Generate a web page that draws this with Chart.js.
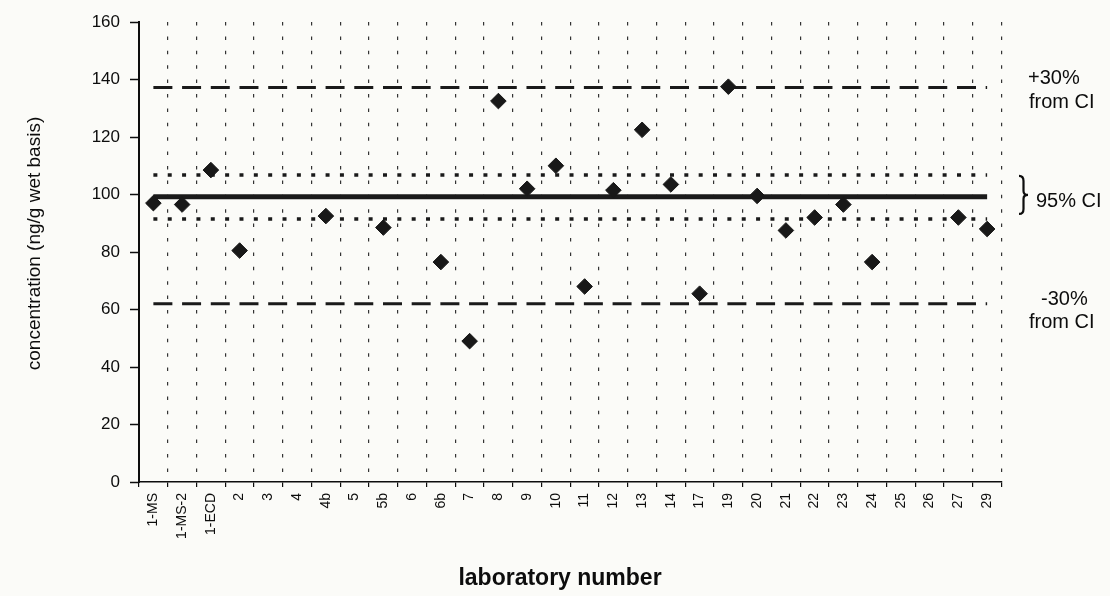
<!DOCTYPE html>
<html>
<head>
<meta charset="utf-8">
<script src="https://cdn.jsdelivr.net/npm/chart.js@4.4.0/dist/chart.umd.min.js"></script>
<style>
  html, body { margin: 0; padding: 0; background: #fbfbf8; }
  canvas { display: block; }
</style>
</head>
<body>
<canvas id="c" width="1110" height="596"></canvas>
<script>
// Laboratory identifiers along the x axis
const labs = ['1-MS', '1-MS-2', '1-ECD', '2', '3', '4', '4b', '5', '5b', '6', '6b', '7', '8', '9', '10',
              '11', '12', '13', '14', '17', '19', '20', '21', '22', '23', '24', '25', '26', '27', '29'];

// Reported concentration per laboratory (ng/g wet basis); null = no result
const conc = [97, 96.5, 108.5, 80.5, null, null, 92.5, null, 88.5, null, 76.5, 49, 132.5, 102, 110,
              68, 101.5, 122.5, 103.5, 65.5, 137.5, 99.5, 87.5, 92, 96.5, 76.5, null, null, 92, 88];

// Consensus value, its 95% confidence interval and the +/-30% limits
const ciMean = 99.2;
const ciUpper = 106.8;
const ciLower = 91.5;
const plus30 = 137.2;
const minus30 = 62;

// y axis tick values
const yTicks = [0, 20, 40, 60, 80, 100, 120, 140, 160];

const INK = '#0d0d0d';
const FONT = 'Liberation Sans, Arial, sans-serif';

const flat = v => labs.map(() => v);

const decor = {
  id: 'decor',
  beforeDraw(chart) {
    const { ctx, width, height } = chart;
    ctx.save();
    ctx.fillStyle = '#fbfbf8';
    ctx.fillRect(0, 0, width, height);
    ctx.restore();
  },
  afterDraw(chart) {
    const { ctx, chartArea } = chart;
    const y = chart.scales.y;
    const r = chartArea.right;
    ctx.save();
    ctx.fillStyle = INK;
    ctx.strokeStyle = INK;

    // axis titles
    ctx.font = 'bold 23px ' + FONT;
    ctx.textAlign = 'center';
    ctx.textBaseline = 'alphabetic';
    ctx.fillText('laboratory number', 560, 585);

    ctx.save();
    ctx.translate(40, 243.5);
    ctx.rotate(-Math.PI / 2);
    ctx.font = '19px ' + FONT;
    ctx.fillText('concentration (ng/g wet basis)', 0, 0);
    ctx.restore();

    // limit annotations on the right
    ctx.font = '20px ' + FONT;
    ctx.textAlign = 'left';
    const pUp = y.getPixelForValue(plus30);
    const pLo = y.getPixelForValue(minus30);
    ctx.fillText('+30%', r + 26.5, pUp - 4);
    ctx.fillText('from CI', r + 27.5, pUp + 20);
    ctx.fillText('-30%', r + 39.5, pLo + 1);
    ctx.fillText('from CI', r + 27.5, pLo + 24);

    // brace spanning the confidence interval
    const top = y.getPixelForValue(ciUpper) + 1;
    const bot = y.getPixelForValue(ciLower) - 5;
    const mid = (top + bot) / 2;
    const x0 = r + 17.5, xm = r + 22, x1 = r + 26.5;
    ctx.lineWidth = 2.2;
    ctx.beginPath();
    ctx.moveTo(x0, top);
    ctx.quadraticCurveTo(xm, top, xm, top + 5);
    ctx.lineTo(xm, mid - 4);
    ctx.quadraticCurveTo(xm, mid, x1, mid);
    ctx.quadraticCurveTo(xm, mid, xm, mid + 4);
    ctx.lineTo(xm, bot - 5);
    ctx.quadraticCurveTo(xm, bot, x0, bot);
    ctx.stroke();
    ctx.fillText('95% CI', r + 34.5, mid + 12);

    ctx.restore();
  }
};

new Chart(document.getElementById('c'), {
  type: 'line',
  data: {
    labels: labs,
    datasets: [
      {
        label: 'laboratories',
        data: conc,
        showLine: false,
        pointStyle: 'rectRot',
        pointRadius: 7.8,
        pointBackgroundColor: '#181818',
        pointBorderColor: '#181818',
        pointBorderWidth: 1
      },
      {
        label: 'mean',
        data: flat(ciMean),
        borderColor: '#1a1a1a',
        borderWidth: 5,
        pointRadius: 0
      },
      {
        label: 'upper CI',
        data: flat(ciUpper),
        borderColor: '#1a1a1a',
        borderWidth: 3.5,
        borderDash: [4, 10.35],
        pointRadius: 0
      },
      {
        label: 'lower CI',
        data: flat(ciLower),
        borderColor: '#1a1a1a',
        borderWidth: 3.5,
        borderDash: [4, 10.35],
        pointRadius: 0
      },
      {
        label: '+30%',
        data: flat(plus30),
        borderColor: '#1a1a1a',
        borderWidth: 3,
        borderDash: [19, 9.7],
        pointRadius: 0
      },
      {
        label: '-30%',
        data: flat(minus30),
        borderColor: '#1a1a1a',
        borderWidth: 3,
        borderDash: [19, 9.7],
        pointRadius: 0
      }
    ]
  },
  options: {
    responsive: false,
    animation: false,
    events: [],
    layout: { padding: { top: 22, right: 108.5, bottom: 0, left: 0 } },
    plugins: {
      legend: { display: false },
      tooltip: { enabled: false }
    },
    scales: {
      x: {
        type: 'category',
        offset: true,
        grid: {
          offset: true,
          color: '#333333',
          lineWidth: 1.2,
          drawTicks: true,
          tickLength: 5,
          tickColor: INK,
          tickWidth: 1.2,
          tickBorderDash: []
        },
        border: { display: true, color: INK, width: 1.5, dash: [3.5, 10.9] },
        ticks: {
          autoSkip: false,
          minRotation: 90,
          maxRotation: 90,
          padding: 6,
          color: INK,
          font: { family: FONT, size: 14 }
        },
        afterFit(s) { s.height = 114; }
      },
      y: {
        type: 'linear',
        min: yTicks[0],
        max: yTicks[yTicks.length - 1],
        afterBuildTicks(s) { s.ticks = yTicks.map(v => ({ value: v })); },
        grid: {
          drawOnChartArea: false,
          drawTicks: true,
          tickLength: 9,
          tickColor: INK,
          tickWidth: 1.5
        },
        border: { display: true, color: INK, width: 2 },
        ticks: {
          padding: 10,
          color: INK,
          font: { family: FONT, size: 17 }
        },
        afterFit(s) { s.width = 139; }
      }
    }
  },
  plugins: [decor]
});
</script>
</body>
</html>
